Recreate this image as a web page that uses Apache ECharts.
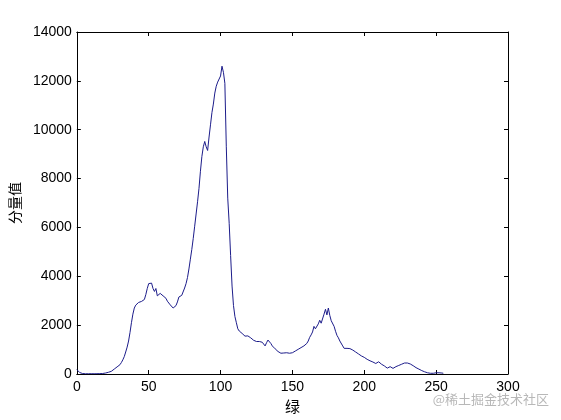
<!DOCTYPE html>
<html>
<head>
<meta charset="utf-8">
<script src="https://cdn.jsdelivr.net/npm/echarts@6/dist/echarts.min.js"></script>
<style>html,body{margin:0;padding:0;background:#fff;}#c{width:561px;height:420px;}</style>
</head>
<body>
<div id="c"></div>
<script>
// Histogram bin counts for green channel levels 0..255
var counts = [
180,120,60,30,20,15,10,10,10,10, 12,12,10,10,12,15,15,18,20,30,
40,55,70,90,110,160,200,250,290,330, 380,470,580,710,900,1100,1350,1700,2100,2450,
2700,2820,2880,2930,2950,2970,3000,3050,3250,3500, 3700,3780,3720,3500,3380,3500,3200,3280,3300,3250,
3200,3170,3100,2980,2900,2830,2760,2700,2660,2800, 2950,3150,3200,3220,3300,3520,3700,3950,4300,4700,
5100,5550,6050,6550,7050,7600,8300,8900,9300,9520, 9300,9150,9700,10200,10700,11050,11500,11780,11950,11950,
12200,12600,12350,11900,9300,7200,6170,4850,3600,2800, 2350,2100,1850,1760,1700,1660,1620,1550,1520,1560,
1530,1480,1450,1380,1320,1330,1270,1330,1390,1300, 1250,1150,1280,1390,1320,1250,1150,1090,1030,980,
920,860,850,840,860,850,870,920,850,860, 870,900,940,980,1010,1040,1080,1110,1150,1190,
1250,1350,1500,1600,1720,1950,1850,1800,2050,2200, 2080,2150,2450,2650,2420,2700,2400,2180,2120,1950,
1750,1580,1480,1350,1280,1150,1050,1050,1050,1050, 1040,1020,980,940,900,860,820,780,740,710,
680,640,600,570,540,510,490,460,430,470, 500,450,400,370,330,280,240,270,300,260,
230,260,300,320,350,370,400,430,450,460, 450,440,410,380,340,300,260,230,200,170,
140,120,90,70,50,40,30,25,30,40, 50,40,50,45,40,30
];
var xTicks = [0, 50, 100, 150, 200, 250, 300];
var yTicks = [0, 2000, 4000, 6000, 8000, 10000, 12000, 14000];
var xName = '绿';
var yName = '分量值';
var watermark = '@稀土掘金技术社区';

var seriesData = counts.map(function (v, i) { return [i, v]; });

var font = '"Liberation Sans", Arial, sans-serif';
var cjk = '"Noto Sans CJK SC", sans-serif';
function line() { return { show: true, onZero: false, lineStyle: { color: '#000', width: 1 } }; }
function tick() { return { show: true, inside: true, length: 4, lineStyle: { color: '#000', width: 1 } }; }
function plain(v) { return String(v); }

var chart = echarts.init(document.getElementById('c'), null, { renderer: 'canvas' });
chart.setOption({
  backgroundColor: '#fff',
  animation: false,
  grid: { left: 73, right: 53, top: 32, bottom: 46 },
  xAxis: [{
    type: 'value', min: xTicks[0], max: xTicks[xTicks.length - 1], interval: 50,
    position: 'bottom',
    axisLine: line(), axisTick: tick(), splitLine: { show: false },
    axisLabel: { color: '#000', fontFamily: font, fontSize: 14, margin: 6, formatter: plain },
    name: xName, nameLocation: 'middle', nameGap: 19,
    nameTextStyle: { color: '#000', fontFamily: cjk, fontSize: 15 }
  }, {
    type: 'value', min: xTicks[0], max: xTicks[xTicks.length - 1], interval: 50,
    position: 'top',
    axisLine: line(), axisTick: tick(), splitLine: { show: false },
    axisLabel: { show: false }
  }],
  yAxis: [{
    type: 'value', min: yTicks[0], max: yTicks[yTicks.length - 1], interval: 2000,
    position: 'left',
    axisLine: line(), axisTick: tick(), splitLine: { show: false },
    axisLabel: { color: '#000', fontFamily: font, fontSize: 14, margin: 5, formatter: plain },
    name: yName, nameLocation: 'middle', nameGap: 48, nameRotate: 90,
    nameTextStyle: { color: '#000', fontFamily: cjk, fontSize: 14 }
  }, {
    type: 'value', min: yTicks[0], max: yTicks[yTicks.length - 1], interval: 2000,
    position: 'right',
    axisLine: line(), axisTick: tick(), splitLine: { show: false },
    axisLabel: { show: false }
  }],
  series: [{
    type: 'line',
    data: seriesData,
    xAxisIndex: 0, yAxisIndex: 0,
    showSymbol: false,
    lineStyle: { color: '#1c1c8a', width: 1 },
    itemStyle: { color: '#1c1c8a' }
  }],
  graphic: [{
    type: 'text',
    right: 12, top: 393,
    style: { text: watermark, fill: '#b8b8b8', font: '13px "Noto Sans CJK SC", sans-serif' }
  }]
});
</script>
</body>
</html>
